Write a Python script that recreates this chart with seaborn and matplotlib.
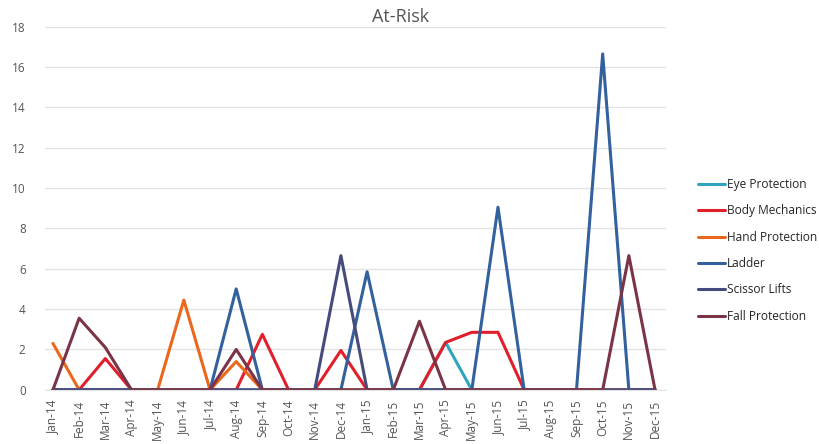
import pandas as pd
import seaborn as sns
import matplotlib.pyplot as plt

months = ['Jan-14', 'Feb-14', 'Mar-14', 'Apr-14', 'May-14', 'Jun-14', 'Jul-14', 'Aug-14',
          'Sep-14', 'Oct-14', 'Nov-14', 'Dec-14', 'Jan-15', 'Feb-15', 'Mar-15', 'Apr-15',
          'May-15', 'Jun-15', 'Jul-15', 'Aug-15', 'Sep-15', 'Oct-15', 'Nov-15', 'Dec-15']

eye_protection = [0, 0, 0, 0, 0, 0, 0, 0, 0, 0, 0, 0, 0, 0, 0, 2.35, 0, 0, 0, 0, 0, 0, 0, 0]
body_mechanics = [0, 0, 1.55, 0, 0, 0, 0, 0, 2.75, 0, 0, 1.95, 0, 0, 0, 2.35, 2.85, 2.85, 0, 0, 0, 0, 0, 0]
hand_protection = [2.3, 0, 0, 0, 0, 4.45, 0, 1.4, 0, 0, 0, 0, 0, 0, 0, 0, 0, 0, 0, 0, 0, 0, 0, 0]
ladder = [0, 0, 0, 0, 0, 0, 0, 5.0, 0, 0, 0, 0, 5.85, 0, 0, 0, 0, 9.05, 0, 0, 0, 16.65, 0, 0]
scissor_lifts = [0, 0, 0, 0, 0, 0, 0, 0, 0, 0, 0, 6.65, 0, 0, 0, 0, 0, 0, 0, 0, 0, 0, 0, 0]
fall_protection = [0, 3.55, 2.1, 0, 0, 0, 0, 2.0, 0, 0, 0, 0, 0, 0, 3.4, 0, 0, 0, 0, 0, 0, 0, 6.65, 0]

series = {
    'Eye Protection': eye_protection,
    'Body Mechanics': body_mechanics,
    'Hand Protection': hand_protection,
    'Ladder': ladder,
    'Scissor Lifts': scissor_lifts,
    'Fall Protection': fall_protection,
}
colors = ['#2fa5bd', '#e01f2b', '#ea671c', '#33619e', '#464b7c', '#7b3446']

rows = []
for name, vals in series.items():
    for i, v in enumerate(vals):
        rows.append({'idx': i, 'month': months[i], 'value': v, 'series': name})
df = pd.DataFrame(rows)

sns.set_style('white')
plt.rcParams['font.family'] = ['Open Sans', 'DejaVu Sans']

fig = plt.figure(figsize=(8.2, 4.44), dpi=100)
ax = fig.add_axes([0.055, 0.122, 0.7566, 0.818])

sns.lineplot(data=df, x='idx', y='value', hue='series', hue_order=list(series.keys()),
             palette=colors, linewidth=2.2, ax=ax, legend=False, sort=False)

ax.set_xlim(-0.3, len(months) - 0.6)
ax.set_ylim(0, 18)
ax.set_yticks(range(0, 19, 2))
ax.set_xticks(range(len(months)))
ax.set_xticklabels(months, rotation=90, fontsize=8.5, color='#555555')
ax.tick_params(axis='y', labelsize=8.5, labelcolor='#555555', length=0, pad=14)
ax.tick_params(axis='x', length=0, pad=7)
ax.yaxis.grid(True, color='#e3e3e3', linewidth=1)
ax.set_axisbelow(True)
for s in ['top', 'right', 'left']:
    ax.spines[s].set_visible(False)
ax.spines['bottom'].set_color('#e3e3e3')
ax.set_xlabel('')
ax.set_ylabel('')
fig.suptitle('At-Risk', x=0.489, y=0.982, fontsize=13, color='#555555')

handles = [plt.Line2D([0], [0], color=c, linewidth=2.2) for c in colors]
fig.legend(handles, list(series.keys()), loc='center left', bbox_to_anchor=(0.838, 0.436),
           frameon=False, fontsize=8.6, handlelength=2.3, handletextpad=0.1, labelspacing=1.12)

fig.savefig('out.png', dpi=100)
